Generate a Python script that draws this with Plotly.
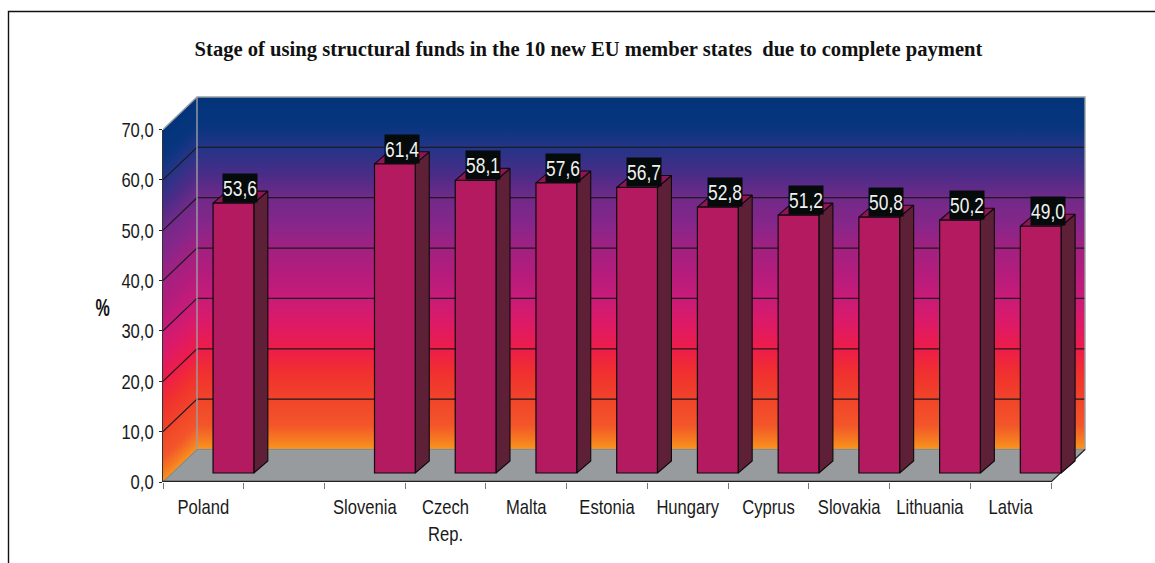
import plotly.graph_objects as go

# ---- data ----
categories = ["Poland", " ", "Slovenia", "Czech<br>Rep.", "Malta", "Estonia",
              "Hungary", "Cyprus", "Slovakia", "Lithuania", "Latvia"]
values = [53.6, None, 61.4, 58.1, 57.6, 56.7, 52.8, 51.2, 50.8, 50.2, 49.0]
y_ticks = [0, 10, 20, 30, 40, 50, 60, 70]
y_tick_labels = ["0,0", "10,0", "20,0", "30,0", "40,0", "50,0", "60,0", "70,0"]
title_text = "Stage of using structural funds in the 10 new EU member states  due to complete payment"

# ---- layout ----
W, H = 1155, 563
PX_L, PX_R_FRONT, PX_R_ALL = 163, 1051, 1092
PX_Y0, PX_Y70, PX_TOP_ALL = 482, 129.5, 90
px_per_cat = (PX_R_FRONT - PX_L) / len(categories)
px_per_unit = (PX_Y0 - PX_Y70) / 70
YMAX = y_ticks[-1]

# 3D depth expressed in axis units
wall_dx, wall_dy = 34 / px_per_cat, 32.5 / px_per_unit
bar_dx, bar_dy = 14 / px_per_cat, 12 / px_per_unit
bar_base = 9 / px_per_unit
bar_offset, bar_width = 0.12, 0.505

X0, X1 = -0.5, -0.5 + len(categories)
X_END = X0 + (PX_R_ALL - PX_L) / px_per_cat

GRADIENT = [[0, "#f9961c"], [0.028, "#f57a22"], [0.071, "#f3552a"], [0.142, "#f1442a"],
            [0.212, "#f0322e"], [0.283, "#ee1d48"], [0.354, "#de1a66"], [0.43, "#c81b78"],
            [0.496, "#b51c7c"], [0.572, "#a12180"], [0.637, "#87268a"], [0.717, "#6f2a88"],
            [0.779, "#4a2c88"], [0.858, "#223586"], [0.92, "#07357e"], [1, "#02347a"]]
EDGE = "#9b9fa3"
GRID = "#1c1a22"
FLOOR = "#989b9d"
FRONT, SIDE, TOP = "#b31a60", "#5e2036", "#8f1556"

fig = go.Figure()


def poly(xs, ys, **kw):
    fig.add_trace(go.Scatter(x=xs, y=ys, mode="lines", fill="toself", hoverinfo="skip",
                             showlegend=False, xaxis="x", yaxis="y", **kw))


def line(xs, ys, color, width):
    fig.add_trace(go.Scatter(x=xs, y=ys, mode="lines", hoverinfo="skip", showlegend=False,
                             line=dict(color=color, width=width), xaxis="x", yaxis="y"))


grad = dict(type="vertical", colorscale=GRADIENT)
bx0, bx1 = X0 + wall_dx, X1 + wall_dx

# back wall
poly([bx0, bx1, bx1, bx0, bx0], [wall_dy, wall_dy, YMAX + wall_dy, YMAX + wall_dy, wall_dy],
     fillgradient=grad, line=dict(width=0))

# side wall: thin sheared strips so that the gradient follows the perspective
N = 17
for i in range(N):
    a, b = i / N, min(1, (i + 1.35) / N)
    xa, xb = X0 + a * wall_dx, X0 + b * wall_dx
    ya, yb = a * wall_dy, b * wall_dy
    poly([xa, xb, xb, xa, xa], [ya, yb, YMAX + yb, YMAX + ya, ya],
         fillgradient=grad, line=dict(width=0))

# floor
poly([X0, X1, bx1, bx0, X0], [0, 0, wall_dy, wall_dy, 0],
     fillcolor=FLOOR, line=dict(width=0))

# grid lines on the two walls
gx, gy = [], []
for t in y_ticks[1:-1]:
    gx += [X0, bx0, bx1, None]
    gy += [t, t + wall_dy, t + wall_dy, None]
line(gx, gy, GRID, 1.2)

# wall edges
line([X0, bx0, bx1, bx1, bx0, bx0], [YMAX, YMAX + wall_dy, YMAX + wall_dy, wall_dy, wall_dy, YMAX + wall_dy], EDGE, 1.4)
line([X0, bx0, bx1], [0, wall_dy, wall_dy], "#85898c", 1.2)
line([X1, bx1], [0, wall_dy], "#222222", 1.2)
# front edge of the floor (the category axis line)
line([X0, X1], [0.05, 0.05], "#222222", 1.8)

# bar depth faces
for i, v in enumerate(values):
    if v is None:
        continue
    l, r = i + bar_offset, i + bar_offset + bar_width
    b, t = bar_base, bar_base + v
    poly([r, r + bar_dx, r + bar_dx, r, r], [b, b + bar_dy, t + bar_dy, t, b],
         fillcolor=SIDE, line=dict(color="#0c0a0c", width=1.1))
    poly([l, r, r + bar_dx, l + bar_dx, l], [t, t, t + bar_dy, t + bar_dy, t],
         fillcolor=TOP, line=dict(color="#0c0a0c", width=1.1))

# bar fronts on the visible axes
fig.add_trace(go.Bar(x=categories, y=values, base=bar_base, offset=bar_offset, width=bar_width,
                     marker=dict(color=FRONT, line=dict(color="#0c0a0c", width=1.2)),
                     cliponaxis=False, showlegend=False, xaxis="x2", yaxis="y2"))

# value labels
annotations = []
for i, v in enumerate(values):
    if v is None:
        continue
    annotations.append(dict(
        x=i + bar_offset + bar_width / 2 + bar_dx / 2, y=bar_base + v, xref="x", yref="y",
        text=f"{v:.1f}".replace(".", ","), showarrow=False, xanchor="center", yanchor="bottom",
        width=34, height=28, bgcolor="#050a0a", borderpad=0,
        font=dict(family="Liberation Sans", size=22, color="#f2f2f2")))

annotations.append(dict(x=102.5 / W, y=1 - 308 / H, xref="paper", yref="paper", text="<b>%</b>",
                        xanchor="center", yanchor="middle", showarrow=False,
                        font=dict(family="Liberation Sans", size=24, color="#111111")))

axis_font = dict(family="Liberation Sans", size=21, color="#1a1a1a")

fig.update_layout(
    width=W, height=H, margin=dict(l=0, r=0, t=0, b=0, pad=0), template="none",
    paper_bgcolor="white", plot_bgcolor="rgba(0,0,0,0)",
    showlegend=False, barmode="overlay",
    title=dict(text=f"<b>{title_text}</b>", x=588.5 / W, y=1 - 48 / H, xref="paper", yref="paper",
               xanchor="center", yanchor="middle", automargin=False,
               font=dict(family="Liberation Serif", size=22, color="#111111")),
    annotations=annotations,
    xaxis=dict(domain=[PX_L / W, PX_R_ALL / W], range=[X0, X_END],
               visible=False, fixedrange=True, automargin=False),
    yaxis=dict(domain=[1 - PX_Y0 / H, 1 - PX_TOP_ALL / H], range=[0, (PX_Y0 - PX_TOP_ALL) / px_per_unit],
               visible=False, fixedrange=True, automargin=False),
    xaxis2=dict(domain=[PX_L / W, PX_R_ALL / W], range=[X0, X_END], anchor="y2", type="category",
                categoryorder="array", categoryarray=categories, tickson="boundaries",
                ticks="outside", ticklen=6, tickwidth=1.2, tickcolor="#777777",
                showline=False, showgrid=False,
                tickfont=axis_font, ticklabelstandoff=10, tickangle=0, fixedrange=True, automargin=False),
    yaxis2=dict(domain=[1 - PX_Y0 / H, 1 - PX_Y70 / H], range=[0, YMAX], anchor="x2",
                tickmode="array", tickvals=y_ticks, ticktext=y_tick_labels,
                ticks="outside", ticklen=3, tickwidth=1.2, tickcolor="#222222",
                showline=True, linecolor="#333333", linewidth=1.2, showgrid=False, zeroline=False,
                tickfont=axis_font, ticklabelstandoff=1, fixedrange=True, automargin=False),
    shapes=[dict(type="path", xref="paper", yref="paper", layer="above",
                 path=f"M {8.5 / W} 0 L {8.5 / W} {1 - 11.5 / H} L 1 {1 - 11.5 / H}",
                 line=dict(color="#111111", width=1.4))],
)

# The reference uses a narrow sans face; Liberation text is condensed in place and stays real text.
squeeze = """
document.body.style.margin='0';document.body.style.overflow='hidden';
function sq(sel,f){
  document.querySelectorAll(sel).forEach(function(t){
    if(!t.textContent.trim()) return;
    if(t.tagName==='text' && t.querySelector('tspan')) return;
    t.removeAttribute('textLength');
    var n=t.getComputedTextLength();
    t.setAttribute('lengthAdjust','spacingAndGlyphs');
    t.setAttribute('textLength',(n*f).toFixed(1));
  });
}
function squeezeText(){
  sq('.xaxislayer-above text, .xaxislayer-above tspan, .yaxislayer-above text',0.79);
  sq('.annotation-text',0.79);
  sq('.annotation-text tspan',0.67);
  sq('.gtitle tspan',0.936);
}
squeezeText();setTimeout(squeezeText,0);setTimeout(squeezeText,200);
"""
fig.write_html("out.html", config=dict(displayModeBar=False), post_script=squeeze)
